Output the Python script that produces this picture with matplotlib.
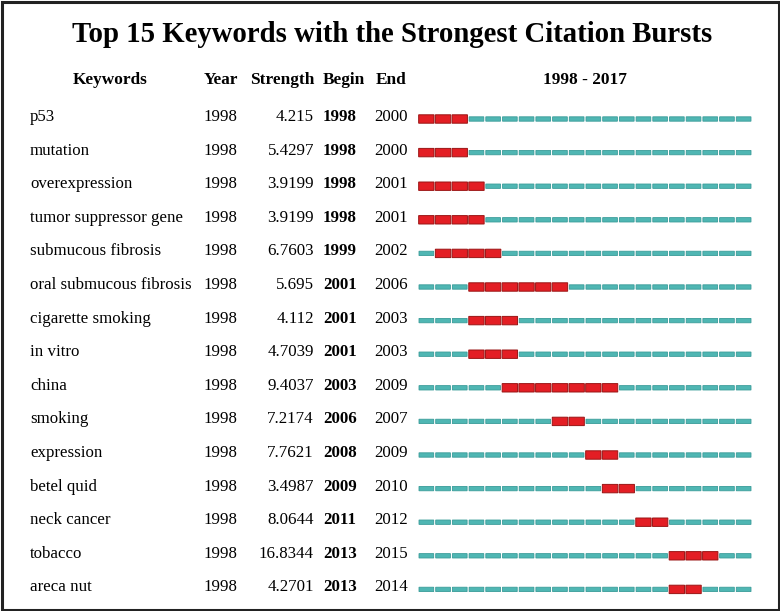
import matplotlib
matplotlib.use("Agg")
import matplotlib.pyplot as plt
from matplotlib.patches import Rectangle

keywords = ["p53", "mutation", "overexpression", "tumor suppressor gene",
            "submucous fibrosis", "oral submucous fibrosis", "cigarette smoking",
            "in vitro", "china", "smoking", "expression", "betel quid",
            "neck cancer", "tobacco", "areca nut"]
year = [1998] * 15
strength = ["4.215", "5.4297", "3.9199", "3.9199", "6.7603", "5.695", "4.112",
            "4.7039", "9.4037", "7.2174", "7.7621", "3.4987", "8.0644",
            "16.8344", "4.2701"]
begin = [1998, 1998, 1998, 1998, 1999, 2001, 2001, 2001, 2003, 2006, 2008,
         2009, 2011, 2013, 2013]
end = [2000, 2000, 2001, 2001, 2002, 2006, 2003, 2003, 2009, 2007, 2009,
       2010, 2012, 2015, 2014]
start_year, end_year = 1998, 2017
title = "Top 15 Keywords with the Strongest Citation Bursts"
headers = ["Keywords", "Year", "Strength", "Begin", "End"]

W, H = 780, 611
fig = plt.figure(figsize=(W / 100, H / 100), dpi=100)
plt.rcParams['font.family'] = ['Liberation Serif', 'DejaVu Serif']

# text layer in pixel coordinates
tax = fig.add_axes([0, 0, 1, 1])
tax.set_xlim(0, W)
tax.set_ylim(H, 0)
tax.axis('off')

row0, dy = 117, 33.6
fs = 12.2
hfs = 12.4

tax.text(392, 35, title, ha='center', va='center', fontsize=20.7, fontweight='bold')
hy = 80
tax.text(110, hy, headers[0], ha='center', va='center', fontsize=hfs, fontweight='bold')
tax.text(204, hy, headers[1], ha='left', va='center', fontsize=hfs, fontweight='bold')
tax.text(314, hy, headers[2], ha='right', va='center', fontsize=hfs, fontweight='bold')
tax.text(323, hy, headers[3], ha='left', va='center', fontsize=hfs, fontweight='bold')
tax.text(376, hy, headers[4], ha='left', va='center', fontsize=hfs, fontweight='bold')
tax.text(585, hy, f"{start_year} - {end_year}", ha='center', va='center',
         fontsize=hfs, fontweight='bold')

for i, kw in enumerate(keywords):
    y = row0 + i * dy
    tax.text(30, y, kw, ha='left', va='center', fontsize=fs)
    tax.text(204, y, str(year[i]), ha='left', va='center', fontsize=fs)
    tax.text(314, y, strength[i], ha='right', va='center', fontsize=fs)
    tax.text(323, y, str(begin[i]), ha='left', va='center', fontsize=fs, fontweight='bold')
    tax.text(374, y, str(end[i]), ha='left', va='center', fontsize=fs)

# border
tax.add_patch(Rectangle((1.5, 1.5), W - 3, H - 3, fill=False, ec='#222222', lw=2.2))

# bar layer: x in years, y in row index
x0, x1 = 418, 752
ytop = row0 + 2 - dy / 2
ybot = row0 + 2 + 14 * dy + dy / 2
bax = fig.add_axes([x0 / W, 1 - ybot / H, (x1 - x0) / W, (ybot - ytop) / H])
bax.set_xlim(start_year - 0.5, end_year + 0.5)
bax.set_ylim(len(keywords) - 0.5, -0.5)
bax.axis('off')

years = list(range(start_year, end_year + 1))
for i in range(len(keywords)):
    teal = [yr for yr in years if not (begin[i] <= yr <= end[i])]
    red = [yr for yr in years if begin[i] <= yr <= end[i]]
    tb = bax.bar(teal, 0.13, width=0.88, bottom=i - 0.065, color='#4fb6b3',
                 edgecolor='#3a9c99', linewidth=0.6)
    rb = bax.bar(red, 0.25, width=0.92, bottom=i - 0.125, color='#e31e24',
                 edgecolor='#9a1414', linewidth=0.7)
    for p in list(tb) + list(rb):
        p.set_snap(False)

fig.savefig("out.png", dpi=100)
